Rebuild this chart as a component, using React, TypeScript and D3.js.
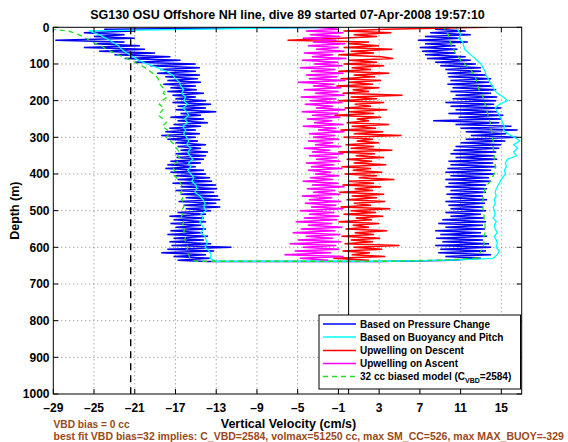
import React from "react";
import * as d3 from "d3";

// ---------- data ----------
const X_TICKS = [-29, -25, -21, -17, -13, -9, -5, -1, 3, 7, 11, 15];
const Y_TICKS = [0, 100, 200, 300, 400, 500, 600, 700, 800, 900, 1000];
const X_DOMAIN = [-29, 17];
const Y_DOMAIN = [0, 1000];
const DASHED_REF = -21.4;
const ZERO_REF = 0;

const DEPTH_DENSE = [
  0, 5, 10, 15, 20, 25, 30, 35, 40, 45, 50, 55, 60, 65, 70, 75, 80, 85, 90, 95,
  100, 105, 110, 115, 120, 125, 130, 135, 140, 145, 150, 155, 160, 165, 170, 175,
  180, 185, 190, 195, 200, 205, 210, 215, 220, 225, 230, 235, 240, 245, 250, 255,
  260, 265, 270, 275, 280, 285, 290, 295, 300, 305, 310, 315, 320, 325, 330, 335,
  340, 345, 350, 355, 360, 365, 370, 375, 380, 385, 390, 395, 400, 405, 410, 415,
  420, 425, 430, 435, 440, 445, 450, 455, 460, 465, 470, 475, 480, 485, 490, 495,
  500, 505, 510, 515, 520, 525, 530, 535, 540, 545, 550, 555, 560, 565, 570, 575,
  580, 585, 590, 595, 600, 605, 610, 615, 620, 625, 630, 635,
];
const DEPTH_10 = [
  0, 10, 20, 30, 40, 50, 60, 70, 80, 90, 100, 110, 120, 130, 140, 150, 160, 170,
  180, 190, 200, 210, 220, 230, 240, 250, 260, 270, 280, 290, 300, 310, 320, 330,
  340, 350, 360, 370, 380, 390, 400, 410, 420, 430, 440, 450, 460, 470, 480, 490,
  500, 510, 520, 530, 540, 550, 560, 570, 580, 590, 600, 610, 620, 630,
];

// Based on Pressure Change (descent, then ascent) at DEPTH_DENSE
const BLUE_DOWN = [
  -1, -24, -21, -26, -22, -25, -21, -28.8,
  -22, -25, -20.5, -26, -20, -24.5, -19, -23,
  -17.5, -22, -16.5, -21, -15, -19.5, -14.6, -18.5,
  -15, -18.8, -14.6, -18, -14.8, -17.8, -14.5, -18.2,
  -15, -17.5, -14.9, -17.8, -14.2, -17.3, -15, -17,
  -14, -17.3, -13.5, -16.8, -14, -17, -13, -16.5,
  -14.5, -17.5, -14.2, -16.8, -13.8, -17.2, -14.5, -17.6,
  -15, -18, -14.6, -18.4, -15, -17.8, -14.8, -17,
  -14, -16.8, -14.5, -16.5, -13.8, -17, -14, -16.9,
  -14.2, -17.5, -14.5, -17.8, -15, -18, -14.2, -17.5,
  -14, -17, -13.6, -16.8, -13.4, -17.3, -13, -16.5,
  -12.9, -17, -13.2, -16.5, -12.8, -16, -12.6, -16.7,
  -13, -16.2, -12.6, -16, -13.5, -16.8, -14, -17.6,
  -14.2, -17.2, -14, -17.5, -14.5, -17, -14, -17.5,
  -14.3, -17.8, -13.8, -17.2, -14.2, -17.6, -13.5, -17.4,
  -11.5, -17.8, -13.2, -18.4, -14, -17.2, -13.6, -16.8,
];
const BLUE_UP = [
  10, 8.5, 11.5, 8, 12, 7.5, 11, 6.8,
  11.7, 7.5, 10.5, 7, 10.7, 7.2, 10.5, 7.5,
  11.5, 7.7, 12, 8.5, 12.5, 9, 13, 9.5,
  13, 9.7, 13.5, 9.8, 14, 10, 13.8, 9.7,
  14.2, 10.2, 14.5, 10, 14, 10.5, 14.6, 10.2,
  14.5, 9.5, 14.3, 10, 15, 10.5, 14.6, 9.8,
  15.2, 10.8, 15, 8.3, 14.8, 10.5, 16, 11,
  16.6, 11.5, 15.5, 12, 16.5, 11.5, 15.4, 11,
  15, 10.5, 14.8, 10.3, 14.5, 10, 14.3, 10.5,
  14.6, 9.8, 14.2, 10, 14.5, 9.7, 14, 9.5,
  14.3, 10, 13.8, 9.5, 14, 9.8, 13.5, 9.5,
  13.6, 10, 13.5, 9.6, 13.2, 10, 13.6, 9.5,
  13.4, 9.8, 13.2, 10, 13.5, 9.5, 13, 10,
  13.3, 9.2, 13.5, 8.8, 13.2, 9.5, 13.4, 8.5,
  13, 9, 13.6, 8.6, 13.2, 9.2, 13.8, 8.5,
  14, 9, 13.5, 8.8, 14, 9.5, 13, 10,
];
const BLUE_TURN_DEPTH = [639, 639, 636];
const BLUE_TURN_V = [-14, 3, 9];

// Based on Buoyancy and Pitch at DEPTH_10
const CYAN_DOWN = [
  -2, -25.5, -24.5, -23.8, -23.2, -22.6, -22.3, -21.8,
  -21.2, -20.6, -19.8, -18.8, -17.9, -17.3, -17, -16.6,
  -16.5, -16.2, -16.4, -16, -16.2, -15.8, -16.3, -15.9,
  -15.7, -16.1, -15.8, -16.3, -16, -16.2, -15.9, -15.7,
  -15.9, -15.5, -15.8, -15.6, -15.3, -15.7, -15.5, -15.8,
  -15.5, -15.2, -15.4, -15, -14.9, -15.1, -14.6, -14.3,
  -14.1, -14.2, -14, -14.5, -14.3, -14.6, -14.4, -14.2,
  -14.5, -14.1, -14, -13.9, -14.1, -13.7, -13.5, -13.6,
];
const CYAN_UP = [
  10.5, 10.8, 11, 10.8, 11.2, 11.3, 11.4, 11.8,
  12.2, 12.6, 13, 13.2, 13.4, 13.5, 13.7, 13.9,
  14.1, 14.3, 14.6, 15.2, 15.6, 14.8, 14.4, 14.6,
  14.8, 15, 15.1, 15.3, 15.2, 15.6, 16.3, 16.8,
  16.2, 16.6, 16.2, 16.5, 15.6, 15.4, 15.5, 15.3,
  15.4, 15.1, 14.9, 14.7, 14.5, 14.4, 14.5, 14.3,
  14.4, 14.2, 14.3, 14.4, 14.2, 14.5, 14.3, 14.4,
  14.6, 14.3, 14.5, 14.6, 14.5, 14.8, 14.6, 14.2,
];
const CYAN_TURN_DEPTH = [638, 638, 635];
const CYAN_TURN_V = [-13, 4, 10];

// Upwelling on Descent / Ascent at DEPTH_DENSE
const RED = [
  13.6, 3.5, -0.5, 4.2, 0.5, 2.8, -0.8, -6,
  2, 0, 3, -0.5, 4.3, 0.2, 2.5, -1,
  3.2, 4.4, 0, 2.8, -0.5, 3.5, 0.3, 2.2,
  -1, 4, 0.5, 2.6, -0.8, 3.2, 0, 2.4,
  -1.2, 3, 0.4, 2, -0.6, 5.3, 0.2, 2.8,
  -1, 3.5, 0.6, 2.2, -0.4, 3.8, 0, 2.5,
  -1.4, 3.2, 0.8, 2, -0.2, 4, 0.3, 2.7,
  -0.8, 3.4, 0.5, 5.2, -0.5, 2.4, 0.8, 3,
  -0.3, 2.5, 0.2, 4.3, -1, 2.6, 0.7, 3.5,
  -0.2, 2.3, 0.5, 3.7, -0.7, 2.2, 0.4, 3.3,
  -0.4, 2.8, 1, 4.5, 0, 2.5, -0.6, 3.2,
  0.6, 2.4, -0.9, 3.5, 0.3, 2.8, -0.2, 3.6,
  0.5, 2.2, -0.8, 4.1, 0.2, 2.7, -0.5, 3.4,
  0.7, 2.3, -1, 3, 0.4, 2, -0.3, 3.8,
  0.6, 2.5, -0.7, 3.1, 0.2, 2.4, -0.4, 5,
  0.5, 3.3, -0.6, 2.1, 0.3, 3.6, -1.5, 2,
];
const MAGENTA = [
  -3, -1, -4.2, -0.5, -3.8, -0.8, -4.5, -1.2,
  -3.5, -0.3, -4, -1, -3.2, -0.4, -4.4, -1.5,
  -3.6, -0.2, -4.6, -1, -3.4, -0.6, -4.8, -1.3,
  -3.7, -0.5, -4.2, -1.1, -3.9, -0.3, -5, -1.4,
  -3.5, -0.7, -4.4, -1, -3.3, -0.4, -4.7, -1.2,
  -3.8, -0.6, -4.3, -1.5, -3.2, -0.3, -4.6, -1,
  -3.6, -0.8, -4.1, -1.6, -3.4, -0.5, -4.5, -1.2,
  -3, -0.4, -3.9, -1.3, -3.5, -0.9, -4, -1.5,
  -3.3, -0.7, -4.4, -1.8, -3.6, -0.5, -3.9, -1.1,
  -3.2, -0.8, -4.2, -1.4, -3.7, -0.6, -4, -1.7,
  -3.3, -0.9, -3.8, -1.5, -4.5, -1, -3.6, -0.4,
  -4.1, -1.3, -3.5, -0.8, -4.6, -1.6, -3.9, -0.7,
  -4.3, -1.2, -3.7, -0.5, -4.8, -1.4, -3.9, -0.9,
  -4.4, -1.1, -5.2, -1.6, -4, -0.6, -4.7, -1.3,
  -5.5, -0.8, -4.2, -1.5, -5, -0.7, -5.8, -1.2,
  -4.5, -0.9, -5.3, -1.7, -6.3, -0.5, -4.8, -2,
];

// 32 cc biased model at DEPTH_10
const GREEN_DOWN = [
  -31, -27.5, -26.5, -25.8, -25.2, -24.3, -23.8, -23,
  -22.2, -21.4, -20.7, -20, -19.5, -19, -18.7, -18.6,
  -18.4, -18, -18.2, -17.8, -18.3, -18.6, -18.1, -18.4,
  -18.7, -18.2, -17.9, -18.3, -17.8, -17.6, -17.9, -17.5,
  -17.1, -16.9, -16.6, -16.8, -16.5, -17, -17.3, -17.1,
  -17.3, -16.9, -16.6, -16.4, -16.3, -16.5, -16.2, -16.4,
  -16.1, -16.2, -16.4, -16.3, -16.5, -16.2, -16.3, -16.1,
  -16.2, -16, -16.1, -15.9, -15.8, -15.9, -15.7, -15.6,
];
const GREEN_UP = [
  9.3, 9.6, 9.8, 9.8, 10, 10.1, 10.3, 10.5,
  10.8, 11, 11.4, 11.8, 12.1, 12.3, 12.5, 12.6,
  12.7, 12.8, 13, 13.2, 13.3, 13.4, 13.6, 13.6,
  13.7, 13.8, 13.9, 14, 14, 14.1, 14.1, 14.2,
  14.2, 14.2, 14.3, 14.3, 14.3, 14.4, 14.4, 14.4,
  14.3, 14.1, 13.9, 13.6, 13.4, 13.3, 13.2, 13.2,
  13.2, 13.2, 13.2, 13.3, 13.3, 13.4, 13.4, 13.4,
  13.4, 13.3, 13.3, 13.3, 13.2, 13, 12.8, 12.5,
];
const GREEN_TURN_DEPTH = [638, 638, 635];
const GREEN_TURN_V = [-15, 4, 9];

const TITLE = "SG130 OSU Offshore NH line, dive 89 started 07-Apr-2008 19:57:10";
const X_LABEL = "Vertical Velocity (cm/s)";
const Y_LABEL = "Depth (m)";
const NOTE_1 = "VBD bias = 0 cc";
const NOTE_2 =
  "best fit VBD bias=32 implies: C_VBD=2584, volmax=51250 cc, max SM_CC=526, max MAX_BUOY=-329";
const LEGEND = [
  { label: "Based on Pressure Change", color: "#0000ff", dash: "" },
  { label: "Based on Buoyancy and Pitch", color: "#00ffff", dash: "" },
  { label: "Upwelling on Descent", color: "#ff0000", dash: "" },
  { label: "Upwelling on Ascent", color: "#ff00ff", dash: "" },
  { label: "MODEL", color: "#22dd22", dash: "5,4" },
];

// ---------- helpers ----------
type P = [number, number];
const zip = (vals: number[], depths: number[]): P[] => vals.map((v, i) => [v, depths[i]]);
const fullProfile = (
  down: number[], downD: number[], turnV: number[], turnD: number[], up: number[], upD: number[]
): P[] => [
  ...zip(down, downD),
  ...zip(turnV, turnD),
  ...zip(up, upD).reverse(),
];

const FONT = "'Liberation Sans', Arial, Helvetica, sans-serif";

export default function App() {
  const L = 53.3, R = 521.7, T = 27.3, B = 394;
  const x = d3.scaleLinear().domain(X_DOMAIN).range([L, R]);
  const y = d3.scaleLinear().domain(Y_DOMAIN).range([T, B]);
  const line = d3.line<P>().x((p) => x(p[0])).y((p) => y(p[1]));

  const blue = fullProfile(BLUE_DOWN, DEPTH_DENSE, BLUE_TURN_V, BLUE_TURN_DEPTH, BLUE_UP, DEPTH_DENSE);
  const cyan = fullProfile(CYAN_DOWN, DEPTH_10, CYAN_TURN_V, CYAN_TURN_DEPTH, CYAN_UP, DEPTH_10);
  const green = fullProfile(GREEN_DOWN, DEPTH_10, GREEN_TURN_V, GREEN_TURN_DEPTH, GREEN_UP, DEPTH_10);
  const red = zip(RED, DEPTH_DENSE);
  const magenta = zip(MAGENTA, DEPTH_DENSE);

  const tickLen = 5;
  const lx1 = 323, lx2 = 356, ltx = 360;
  const legendY = [324, 337, 350.5, 363.5, 376.5];

  return (
    <svg width={568} height={442} style={{ position: "absolute", left: 0, top: 0, background: "#fff" }}
      fontFamily={FONT}>
      <defs>
        <clipPath id="plotclip">
          <rect x={L} y={T} width={R - L} height={B - T} />
        </clipPath>
      </defs>
      <rect x={0} y={0} width={568} height={442} fill="#fff" />
      {/* grid */}
      <g stroke="#666" strokeWidth={0.8} strokeDasharray="1,3">
        {X_TICKS.slice(1).map((t) => (
          <line key={"gx" + t} x1={x(t)} x2={x(t)} y1={T} y2={B} />
        ))}
        {Y_TICKS.slice(1, -1).map((t) => (
          <line key={"gy" + t} x1={L} x2={R} y1={y(t)} y2={y(t)} />
        ))}
      </g>
      {/* data */}
      <g clipPath="url(#plotclip)" fill="none" strokeLinejoin="miter" strokeMiterlimit={2}>
        <path d={line(blue) || ""} stroke="#0000f0" strokeWidth={1.5} />
        <path d={line(cyan) || ""} stroke="#00ffff" strokeWidth={1.3} />
        <path d={line(red) || ""} stroke="#ff0000" strokeWidth={1.5} />
        <path d={line(magenta) || ""} stroke="#ff00ff" strokeWidth={1.5} />
        <path d={line(green) || ""} stroke="#22dd22" strokeWidth={1.3} strokeDasharray="5,4" />
        <line x1={x(DASHED_REF)} x2={x(DASHED_REF)} y1={T} y2={B} stroke="#000" strokeWidth={1.4} strokeDasharray="7,5" />
        <line x1={x(ZERO_REF)} x2={x(ZERO_REF)} y1={T} y2={B} stroke="#000" strokeWidth={1} />
      </g>
      {/* box & ticks */}
      <rect x={L} y={T} width={R - L} height={B - T} fill="none" stroke="#000" strokeWidth={1} />
      <g stroke="#000" strokeWidth={1}>
        {X_TICKS.map((t) => (
          <g key={"tx" + t}>
            <line x1={x(t)} x2={x(t)} y1={B} y2={B - tickLen} />
            <line x1={x(t)} x2={x(t)} y1={T} y2={T + tickLen} />
          </g>
        ))}
        {Y_TICKS.map((t) => (
          <g key={"ty" + t}>
            <line x1={L} x2={L + tickLen} y1={y(t)} y2={y(t)} />
            <line x1={R} x2={R - tickLen} y1={y(t)} y2={y(t)} />
          </g>
        ))}
      </g>
      {/* tick labels */}
      <g fontSize={12} fontWeight="bold" fill="#000">
        {X_TICKS.map((t) => (
          <text key={"lx" + t} x={x(t)} y={412} textAnchor="middle">
            {t < 0 ? "\u2013" + Math.abs(t) : String(t)}
          </text>
        ))}
        {Y_TICKS.map((t) => (
          <text key={"ly" + t} x={49.5} y={y(t) + 4.3} textAnchor="end">
            {String(t)}
          </text>
        ))}
      </g>
      {/* titles */}
      <text x={(L + R) / 2} y={19} textAnchor="middle" fontSize={12.5} fontWeight="bold">
        {TITLE}
      </text>
      <text x={(L + R) / 2 + 1} y={428} textAnchor="middle" fontSize={12.5} fontWeight="bold">
        {X_LABEL}
      </text>
      <text transform={`translate(19,${(T + B) / 2}) rotate(-90)`} textAnchor="middle" fontSize={12.5} fontWeight="bold">
        {Y_LABEL}
      </text>
      <text x={53.5} y={428} fontSize={10.2} fontWeight="bold" fill="#9a4a1a">
        {NOTE_1}
      </text>
      <text x={53.5} y={440.3} fontSize={10.5} fontWeight="bold" fill="#9a4a1a">
        {NOTE_2}
      </text>
      {/* legend */}
      <rect x={319} y={315} width={201.5} height={74} fill="#fff" stroke="#000" strokeWidth={1} />
      {LEGEND.map((e, i) => (
        <g key={"lg" + i}>
          <line x1={lx1} x2={lx2} y1={legendY[i]} y2={legendY[i]} stroke={e.color} strokeWidth={1.3}
            strokeDasharray={e.dash || undefined} />
          <text x={ltx} y={legendY[i] + 3.6} fontSize={10} fontWeight="bold">
            {e.label === "MODEL" ? (
              <>
                {"32 cc biased model (C"}
                <tspan fontSize={7} dy={2.5}>VBD</tspan>
                <tspan dy={-2.5}>{"=2584)"}</tspan>
              </>
            ) : (
              e.label
            )}
          </text>
        </g>
      ))}
    </svg>
  );
}
